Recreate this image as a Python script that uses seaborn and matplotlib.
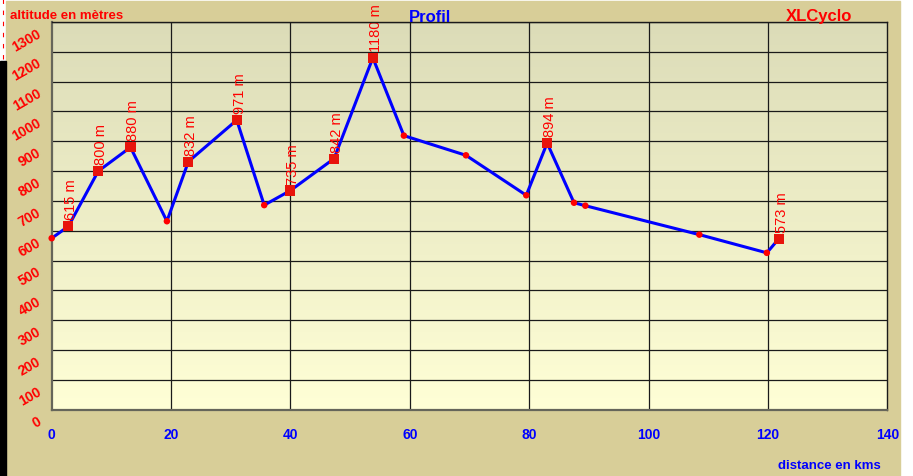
import numpy as np
import pandas as pd
import matplotlib
matplotlib.use("Agg")
import matplotlib.pyplot as plt
import matplotlib.patches as mpatches
import matplotlib.transforms as mtransforms
import seaborn as sns

# profile points: distance (km) / altitude (m)
distance_km = [0.0, 2.8, 7.8, 13.2, 19.3, 22.9, 31.0, 35.6, 40.0, 47.3, 53.8,
               59.0, 69.4, 79.5, 83.0, 87.5, 89.4, 108.5, 119.8, 121.8]
altitude_m = [575, 615, 800, 880, 632, 832, 971, 686, 735, 842, 1180,
              919, 853, 719, 894, 694, 684, 587, 526, 573]
# points with a label (cols / summits) shown as squares
labelled = [False, True, True, True, False, True, True, False, True, True, True,
            False, False, False, True, False, False, False, False, True]

x_ticks = [0, 20, 40, 60, 80, 100, 120, 140]
y_ticks = list(range(0, 1400, 100))

C_TAN = "#D8CE98"
C_RED = "#FF0000"
C_BLUE = "#0000FF"
C_MARK = "#E8140C"

df = pd.DataFrame({"km": distance_km, "alt": altitude_m, "lab": labelled})

sns.set_style("white")
plt.rcParams["font.family"] = ["Liberation Sans", "DejaVu Sans"]

fig = plt.figure(figsize=(9.13, 4.77), dpi=100, facecolor="white")
W, H = 913, 477

# tan frame + black strip on the left
fig.patches.append(mpatches.Rectangle((6 / W, 0), (900 - 6) / W, (H - 2) / H,
                                      transform=fig.transFigure, color=C_TAN, zorder=-2))
fig.patches.append(mpatches.Rectangle((0, 0), 6 / W, (H - 62) / H,
                                      transform=fig.transFigure, color="black", zorder=-2))
fig.add_artist(plt.Line2D([3 / W, 3 / W], [(H - 60) / H, 1], transform=fig.transFigure,
                          color=C_RED, lw=0.8, ls=(0, (4, 6)), zorder=-1))

ax = fig.add_axes([51.7 / W, (H - 410.7) / H, (887.4 - 51.7) / W, (410.7 - 23) / H])

# vertical gradient background
grad = np.linspace(0, 1, 256).reshape(-1, 1)
cmap = matplotlib.colors.LinearSegmentedColormap.from_list("bg", ["#FFFFD6", "#DCDCB8"])
ax.imshow(grad, extent=[0, 140, 0, 1300], origin="lower", aspect="auto",
          cmap=cmap, zorder=0)

for xv in x_ticks[1:-1]:
    ax.axvline(xv, color="#1a1a1a", lw=0.9, zorder=1)
for yv in y_ticks[1:]:
    ax.axhline(yv, color="#1a1a1a", lw=0.9, zorder=1)

sns.lineplot(data=df, x="km", y="alt", color=C_BLUE, lw=2.2, sort=False, ax=ax, zorder=3)
sns.scatterplot(data=df[~df["lab"]], x="km", y="alt", color=C_RED, s=22, marker="o",
                edgecolor="none", ax=ax, zorder=7, clip_on=False)
sns.scatterplot(data=df[df["lab"]], x="km", y="alt", color=C_MARK, s=52, marker="s",
                edgecolor="none", ax=ax, zorder=7, clip_on=False)

for _, r in df[df["lab"]].iterrows():
    ax.annotate(f"{r['alt']} m", (r["km"], r["alt"]), xytext=(2, 5),
                textcoords="offset points", rotation=90, ha="center", va="bottom",
                fontsize=10.5, color=C_RED, zorder=5, annotation_clip=False)

ax.set_xlim(0, 140)
ax.set_ylim(0, 1300)
ax.set_xticks(x_ticks)
ax.set_yticks(y_ticks)
ax.set_xlabel("")
ax.set_ylabel("")
ax.tick_params(axis="x", direction="inout", length=7, width=1, color="#55554a", pad=9,
               labelsize=10, labelcolor=C_BLUE)
ax.tick_params(axis="y", direction="inout", length=5, width=1, color="#222222", pad=6,
               labelsize=10, labelcolor=C_RED)
for lbl in ax.get_xticklabels():
    lbl.set_fontweight("bold")
offset = mtransforms.ScaledTranslation(0, -7 / 72, fig.dpi_scale_trans)
for lbl in ax.get_yticklabels():
    lbl.set_fontweight("bold")
    lbl.set_rotation(30)
    lbl.set_rotation_mode("anchor")
    lbl.set_ha("right")
    lbl.set_va("center")
    lbl.set_transform(lbl.get_transform() + offset)

for side in ["top", "right"]:
    ax.spines[side].set_color("#1a1a1a")
    ax.spines[side].set_linewidth(1.0)
for side in ["left", "bottom"]:
    ax.spines[side].set_color("#66665a")
    ax.spines[side].set_linewidth(1.6)
for sp in ax.spines.values():
    sp.set_zorder(6)

fig.text(10 / W, 1 - 16 / H, "altitude en mètres", color=C_RED, fontsize=9.5,
         fontweight="bold", ha="left", va="center")
fig.text(430 / W, 1 - 18 / H, "Profil", color=C_BLUE, fontsize=12,
         fontweight="bold", ha="center", va="center")
fig.text(819 / W, 1 - 16 / H, "XLCyclo", color=C_RED, fontsize=12,
         fontweight="bold", ha="center", va="center")
fig.text(881 / W, 1 - 466 / H, "distance en kms", color=C_BLUE, fontsize=9.5,
         fontweight="bold", ha="right", va="center")

fig.savefig("out.png", dpi=100, facecolor=fig.get_facecolor())
